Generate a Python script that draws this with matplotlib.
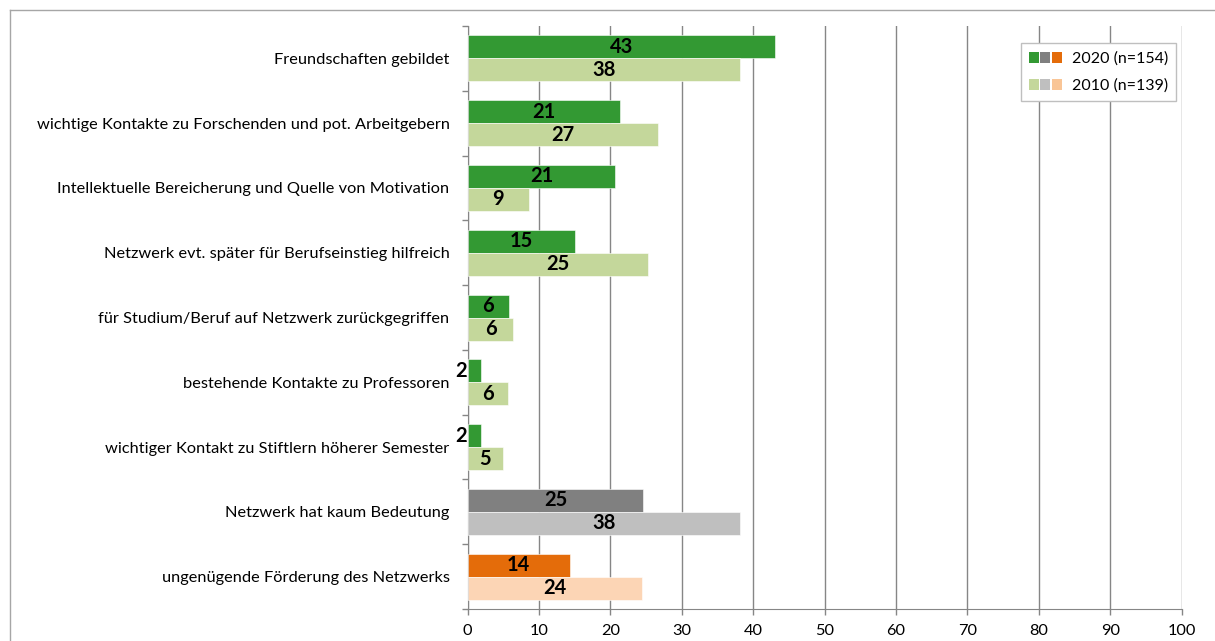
import numpy as np
import matplotlib
matplotlib.use("Agg")
import matplotlib.pyplot as plt
from matplotlib.patches import Patch
from matplotlib.legend_handler import HandlerTuple
from matplotlib.lines import Line2D

plt.rcParams['font.family'] = ['Lato', 'DejaVu Sans']

# Daten (von oben nach unten)
kategorien = [
    "Freundschaften gebildet",
    "wichtige Kontakte zu Forschenden und pot. Arbeitgebern",
    "Intellektuelle Bereicherung und Quelle von Motivation",
    "Netzwerk evt. später für Berufseinstieg hilfreich",
    "für Studium/Beruf auf Netzwerk zurückgegriffen",
    "bestehende Kontakte zu Professoren",
    "wichtiger Kontakt zu Stiftlern höherer Semester",
    "Netzwerk hat kaum Bedeutung",
    "ungenügende Förderung des Netzwerks",
]
werte_2020 = [43.0, 21.4, 20.7, 15.0, 5.8, 1.9, 1.9, 24.6, 14.3]
werte_2010 = [38.2, 26.6, 8.6, 25.2, 6.4, 5.7, 4.9, 38.2, 24.4]
gruppe = ["pos", "pos", "pos", "pos", "pos", "pos", "pos", "neutral", "neg"]

farben_2020 = {"pos": "#339933", "neutral": "#808080", "neg": "#E46C0A"}
farben_2010 = {"pos": "#C4D79B", "neutral": "#BFBFBF", "neg": "#FCD5B5"}
x_ticks = [0, 10, 20, 30, 40, 50, 60, 70, 80, 90, 100]

fig = plt.figure(figsize=(12.15, 6.41), dpi=100)
ax = fig.add_axes([0.3849, 0.0499, 0.9726 - 0.3849, 0.9594 - 0.0499])

n = len(kategorien)
y = np.arange(n)
h = 0.355
gitter = "#868686"
fs_label = 14.5

for i in range(n):
    c1 = farben_2020[gruppe[i]]
    c2 = farben_2010[gruppe[i]]
    ax.barh(y[i] - h / 2, werte_2020[i], height=h, color=c1, edgecolor="white", linewidth=0.4, zorder=3)
    ax.barh(y[i] + h / 2, werte_2010[i], height=h, color=c2, edgecolor="white", linewidth=0.4, zorder=3)
    lab1 = f"{werte_2020[i]:.0f}"
    if werte_2020[i] < 3:
        ax.text(-0.15, y[i] - h / 2, lab1, ha="right", va="center", fontsize=fs_label,
                fontweight="bold", zorder=5, clip_on=False)
    else:
        ax.text(werte_2020[i] / 2, y[i] - h / 2, lab1, ha="center", va="center",
                fontsize=fs_label, fontweight="bold", zorder=5)
    ax.text(werte_2010[i] / 2, y[i] + h / 2, f"{werte_2010[i]:.0f}", ha="center", va="center",
            fontsize=fs_label, fontweight="bold", zorder=5)

ax.set_xlim(0, 100)
ax.set_ylim(n - 0.5, -0.5)
ax.set_xticks(x_ticks)
ax.set_yticks(y)
ax.set_yticklabels(kategorien, fontsize=11.8)
ax.set_yticks(np.arange(n + 1) - 0.5, minor=True)
ax.tick_params(axis="y", which="major", length=0, pad=13)
ax.tick_params(axis="y", which="minor", length=4, color=gitter, width=1)
ax.tick_params(axis="x", length=4, color=gitter, width=1, labelsize=11.8, pad=7)

for s in ["top", "right"]:
    ax.spines[s].set_visible(False)
ax.spines["left"].set_color(gitter)
ax.spines["bottom"].set_color(gitter)
ax.xaxis.grid(True, color=gitter, linewidth=1)
ax.set_axisbelow(True)

# Legende
h20 = tuple(Patch(facecolor=farben_2020[k], edgecolor="none") for k in ["pos", "neutral", "neg"])
h10 = (Patch(facecolor="#C4D79B", edgecolor="none"),
       Patch(facecolor="#BFBFBF", edgecolor="none"),
       Patch(facecolor="#F9C596", edgecolor="none"))
leg = ax.legend([h20, h10], ["2020 (n=154)", "2010 (n=139)"],
                handler_map={tuple: HandlerTuple(ndivide=None, pad=0.12)},
                loc="upper left", bbox_to_anchor=(0.7745, 0.9703), borderaxespad=0,
                fontsize=11.5, handlelength=2.1, handleheight=0.68, fancybox=False,
                framealpha=1, edgecolor="#BFBFBF", borderpad=0.5, labelspacing=0.8,
                handletextpad=0.6)
leg.get_frame().set_linewidth(1)

# Rahmen
fig.add_artist(Line2D([10.5 / 1215, 10.5 / 1215], [0, 1 - 10 / 641], color="#A6A6A6", linewidth=1))
fig.add_artist(Line2D([10.5 / 1215, 1], [1 - 10 / 641, 1 - 10 / 641], color="#A6A6A6", linewidth=1))

fig.savefig("out.png", dpi=100)
